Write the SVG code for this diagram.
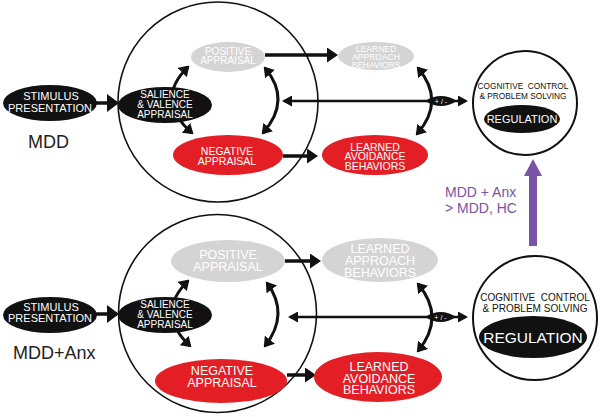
<svg xmlns="http://www.w3.org/2000/svg" width="602" height="417" viewBox="0 0 602 417">
<defs>
<style>
text{font-family:"Liberation Sans",Arial,sans-serif;text-anchor:middle;}
.w{fill:#ffffff;}
.k{fill:#111111;}
.blk{fill:#111111;}
.red{fill:#e31e24;}
.gry{fill:#d4d4d4;}
.ring{fill:none;stroke:#111111;stroke-width:1.6;}
.reg{fill:#ffffff;stroke:#111111;stroke-width:2;}
.ln{fill:none;stroke:#111111;stroke-width:3.5;}
.cv{fill:none;stroke:#111111;stroke-width:3;}
.th{fill:none;stroke:#111111;stroke-width:2.5;}
.pur{fill:#7a52a6;}
.lbl{fill:#222222;font-size:18px;text-anchor:start;}
.pt{fill:#7a52a6;font-size:14px;text-anchor:start;}
.pre{white-space:pre;}
</style>
<marker id="ah" markerUnits="userSpaceOnUse" markerWidth="11" markerHeight="15" refX="8" refY="7.5" orient="auto-start-reverse" viewBox="0 0 11 15">
<path d="M0,0 L11,7.5 L0,15 Z" fill="#111111"/>
</marker>
<marker id="ac" markerUnits="userSpaceOnUse" markerWidth="10" markerHeight="13" refX="8" refY="6.5" orient="auto-start-reverse" viewBox="0 0 10 13">
<path d="M0,0 L10,6.5 L0,13 Z" fill="#111111"/>
</marker>
<marker id="as" markerUnits="userSpaceOnUse" markerWidth="10" markerHeight="11" refX="8" refY="5.5" orient="auto-start-reverse" viewBox="0 0 10 11">
<path d="M0,0 L10,5.5 L0,11 Z" fill="#111111"/>
</marker>
<marker id="ab" markerUnits="userSpaceOnUse" markerWidth="12" markerHeight="18" refX="10" refY="9" orient="auto" viewBox="0 0 12 18">
<path d="M0,0 L12,9 L0,18 Z" fill="#111111"/>
</marker>
</defs>

<g id="panel-circles">
<circle class="ring" cx="218" cy="102" r="100"/>
<circle class="ring" cx="217.5" cy="313.5" r="99"/>
</g>

<g id="connectors">
<!-- top panel -->
<line class="ln" x1="95" y1="103" x2="117" y2="103" marker-end="url(#ab)"/>
<line class="ln" x1="265" y1="55" x2="335" y2="55" marker-end="url(#ah)"/>
<line class="ln" x1="283" y1="156" x2="315" y2="156" marker-end="url(#ah)"/>
<line class="th" x1="284" y1="101" x2="466" y2="101" marker-start="url(#as)" marker-end="url(#as)"/>
<path class="cv" d="M188,67 Q154,100 192,133" marker-start="url(#ac)" marker-end="url(#ac)"/>
<path class="cv" d="M265,68 Q292,100 263,133" marker-start="url(#ac)" marker-end="url(#ac)"/>
<path class="cv" d="M418,68 Q446,101 417,134" marker-start="url(#ac)" marker-end="url(#ac)"/>
<!-- bottom panel -->
<line class="ln" x1="95" y1="314" x2="117" y2="314" marker-end="url(#ab)"/>
<line class="ln" x1="285" y1="261" x2="318" y2="261" marker-end="url(#ah)"/>
<line class="ln" x1="287" y1="375" x2="313" y2="375" marker-end="url(#ah)"/>
<line class="th" x1="290" y1="317" x2="466" y2="317" marker-start="url(#as)" marker-end="url(#as)"/>
<path class="cv" d="M188,281 Q155,313 190,346" marker-start="url(#ac)" marker-end="url(#ac)"/>
<path class="cv" d="M267,283 Q290,314 265,346" marker-start="url(#ac)" marker-end="url(#ac)"/>
<path class="cv" d="M418,284 Q446,317 418,351" marker-start="url(#ac)" marker-end="url(#ac)"/>
<!-- purple comparison arrow -->
<rect class="pur" x="529" y="174" width="8" height="72"/>
<polygon class="pur" points="524,176 533,159 542,176"/>
</g>

<g id="labels">
<text class="lbl" x="28" y="148">MDD</text>
<text class="lbl" x="13" y="359">MDD+Anx</text>
<text class="pt" x="445" y="197">MDD + Anx</text>
<text class="pt" x="445" y="213">&gt; MDD, HC</text>
</g>

<!-- top panel nodes -->
<g id="stimulus-top">
<ellipse class="blk" cx="50" cy="103" rx="47" ry="18"/>
<text class="w" x="51" y="100" font-size="11">STIMULUS</text>
<text class="w" x="50" y="111.5" font-size="11">PRESENTATION</text>
</g>
<g id="salience-top">
<ellipse class="blk" cx="165" cy="105" rx="47" ry="18"/>
<text class="w" x="165" y="97.5" font-size="10">SALIENCE</text>
<text class="w" x="165" y="107.5" font-size="10">&amp; VALENCE</text>
<text class="w" x="165" y="117.5" font-size="10">APPRAISAL</text>
</g>
<g id="positive-top">
<ellipse class="gry" cx="228" cy="57" rx="37" ry="15"/>
<text class="w" x="228" y="55" font-size="10">POSITIVE</text>
<text class="w" x="228" y="64" font-size="10">APPRAISAL</text>
</g>
<g id="negative-top">
<ellipse class="red" cx="228" cy="155" rx="55" ry="20"/>
<text class="w" x="227" y="154.5" font-size="10.5">NEGATIVE</text>
<text class="w" x="227" y="164.5" font-size="10.5">APPRAISAL</text>
</g>
<g id="approach-top">
<ellipse class="gry" cx="376" cy="56" rx="38" ry="14"/>
<text class="w" x="376" y="51.5" font-size="8.5">LEARNED</text>
<text class="w" x="376" y="59.5" font-size="8.5">APPROACH</text>
<text class="w" x="376" y="67.5" font-size="8.5">BEHAVIORS</text>
</g>
<g id="avoidance-top">
<ellipse class="red" cx="375" cy="155" rx="53" ry="20"/>
<text class="w" x="375" y="150.5" font-size="10.5">LEARNED</text>
<text class="w" x="375" y="160" font-size="10.5">AVOIDANCE</text>
<text class="w" x="375" y="169.5" font-size="10.5">BEHAVIORS</text>
</g>
<g id="modulator-top">
<path class="blk" d="M425,101 Q441,91 457,101 Q441,111 425,101 Z"/>
<text class="w pre" x="441" y="103.5" font-size="7">+ / -</text>
</g>
<g id="regulation-top">
<circle class="reg" cx="525" cy="103" r="52"/>
<text class="k pre" x="523" y="88.5" font-size="8.3">COGNITIVE  CONTROL</text>
<text class="k" x="523" y="98.5" font-size="8.3">&amp; PROBLEM SOLVING</text>
<ellipse class="blk" cx="522" cy="119" rx="38" ry="14"/>
<text class="w" x="522" y="123" font-size="11">REGULATION</text>
</g>

<!-- bottom panel nodes -->
<g id="stimulus-bottom">
<ellipse class="blk" cx="50" cy="315" rx="47" ry="18"/>
<text class="w" x="51" y="310.5" font-size="11">STIMULUS</text>
<text class="w" x="50" y="322" font-size="11">PRESENTATION</text>
</g>
<g id="salience-bottom">
<ellipse class="blk" cx="165" cy="315" rx="47" ry="18"/>
<text class="w" x="165" y="307.5" font-size="10">SALIENCE</text>
<text class="w" x="165" y="317.5" font-size="10">&amp; VALENCE</text>
<text class="w" x="165" y="327.5" font-size="10">APPRAISAL</text>
</g>
<g id="positive-bottom">
<ellipse class="gry" cx="228" cy="261" rx="57" ry="21"/>
<text class="w" x="228" y="259" font-size="12.5">POSITIVE</text>
<text class="w" x="228" y="270.5" font-size="12.5">APPRAISAL</text>
</g>
<g id="negative-bottom">
<ellipse class="red" cx="221" cy="381" rx="66" ry="22"/>
<text class="w" x="222" y="374.5" font-size="12.5">NEGATIVE</text>
<text class="w" x="222" y="386.5" font-size="12.5">APPRAISAL</text>
</g>
<g id="approach-bottom">
<ellipse class="gry" cx="380" cy="260" rx="58" ry="22"/>
<text class="w" x="380" y="252.5" font-size="12.5">LEARNED</text>
<text class="w" x="380" y="264.5" font-size="12.5">APPROACH</text>
<text class="w" x="380" y="276.5" font-size="12.5">BEHAVIORS</text>
</g>
<g id="avoidance-bottom">
<ellipse class="red" cx="378" cy="377" rx="64" ry="25"/>
<text class="w" x="379" y="371" font-size="12.5">LEARNED</text>
<text class="w" x="379" y="382.5" font-size="12.5">AVOIDANCE</text>
<text class="w" x="379" y="394" font-size="12.5">BEHAVIORS</text>
</g>
<g id="modulator-bottom">
<path class="blk" d="M425,317 Q441,307 456,317 Q441,327 425,317 Z"/>
<text class="w pre" x="440.5" y="319.5" font-size="7">+ / -</text>
</g>
<g id="regulation-bottom">
<circle class="reg" cx="535" cy="318" r="62"/>
<text class="k pre" x="535" y="300.5" font-size="10">COGNITIVE  CONTROL</text>
<text class="k" x="535" y="312" font-size="10">&amp; PROBLEM SOLVING</text>
<ellipse class="blk" cx="533" cy="337" rx="54" ry="21"/>
<text class="w" x="533" y="342.5" font-size="15.5">REGULATION</text>
</g>
</svg>
